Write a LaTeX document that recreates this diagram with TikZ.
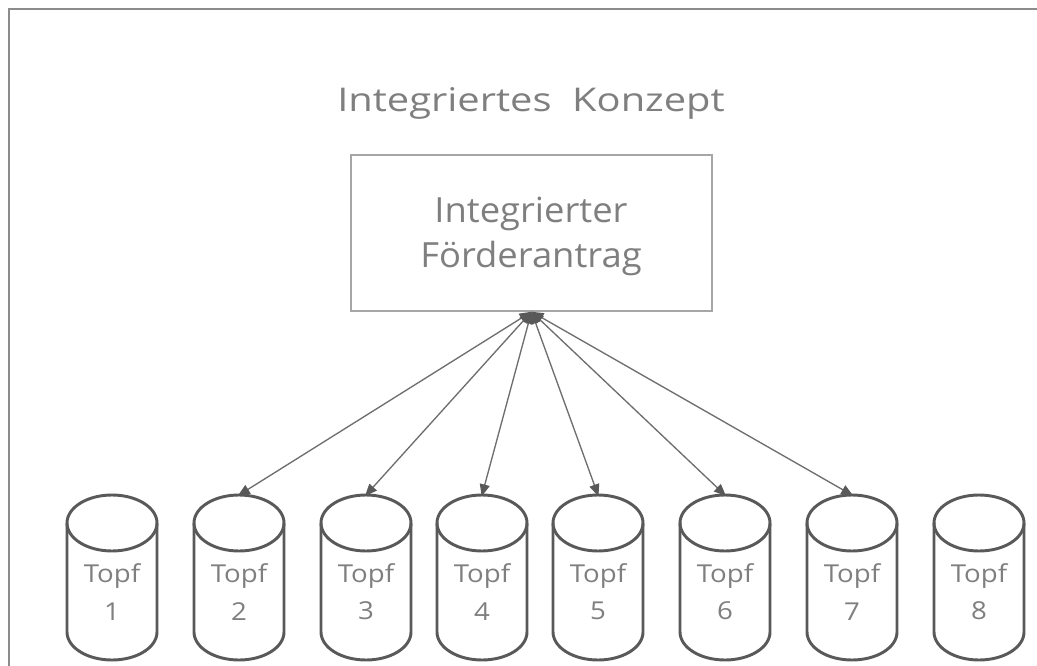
\documentclass[tikz,border=0pt]{standalone}
\usepackage{graphicx}
\usepackage{fontspec}
\setmainfont{Open Sans}
\usetikzlibrary{arrows.meta,calc}
\definecolor{txtgray}{HTML}{7F7F7F}
\definecolor{framegray}{HTML}{8C8C8C}
\definecolor{boxgray}{HTML}{A6A6A6}
\definecolor{cylgray}{HTML}{595959}
\definecolor{linkgray}{HTML}{6E6E6E}

% horizontally widened text
\newcommand\wide[2]{\scalebox{#1}[1]{#2}}

% one cylinder: #1 = number, #2 = horizontal centre
\newcommand\topfcyl[2]{%
  \draw[cylline] (#2,523) ellipse [x radius=33.75pt, y radius=21pt];
  \draw[cylline] (#2-45,523) -- (#2-45,632)
      arc[start angle=180, end angle=360, x radius=33.75pt, y radius=21pt]
      -- (#2+45,523);
  \node[topftext] (topf#1) at (#2,592) {\wide{1.12}{Topf}\\\wide{1.12}{#1}};
  \coordinate (deckel#1) at (#2,495);
}

\begin{document}
\begin{tikzpicture}[x=0.75pt, y=-0.75pt,
  cylline/.style={draw=cylgray, line width=2.2pt},
  topftext/.style={text=txtgray, align=center, font=\fontsize{18.5}{28}\selectfont},
  link/.style={draw=linkgray, line width=1pt,
    {Triangle[length=9pt,width=7.5pt,color=cylgray]}-{Triangle[length=9pt,width=7.5pt,color=cylgray]}}]
\useasboundingbox (0,0) rectangle (1037,666);
\clip (0,0) rectangle (1037,666);
\fill[white] (0,0) rectangle (1037,666);

% outer frame (runs off the right and bottom edges)
\draw[framegray, line width=1.5pt] (9,9) rectangle (1080,720);

% heading
\node[anchor=base, text=txtgray, font=\fontsize{24.5}{32}\selectfont] (titel) at (531,112) {\wide{1.22}{Integriertes\ \ Konzept}};

% application box
\node[draw=boxgray, line width=1.1pt, minimum width=270.75pt, minimum height=117pt, inner sep=0pt] (antrag) at (531.5,233) {};
\node[text=txtgray, align=center, font=\fontsize{26}{33.75}\selectfont] (antragtext) at (531,236) {\wide{1.05}{Integrierter}\\\wide{1.05}{Förderantrag}};

% pots
\topfcyl{1}{112}
\topfcyl{2}{239}
\topfcyl{3}{366}
\topfcyl{4}{482}
\topfcyl{5}{598}
\topfcyl{6}{725}
\topfcyl{7}{852}
\topfcyl{8}{979}

% links from the application to pots 2-7
\foreach \i in {2,...,7}
  \draw[link, shorten >=-1pt] (antrag.south) -- (deckel\i);
\end{tikzpicture}
\end{document}
